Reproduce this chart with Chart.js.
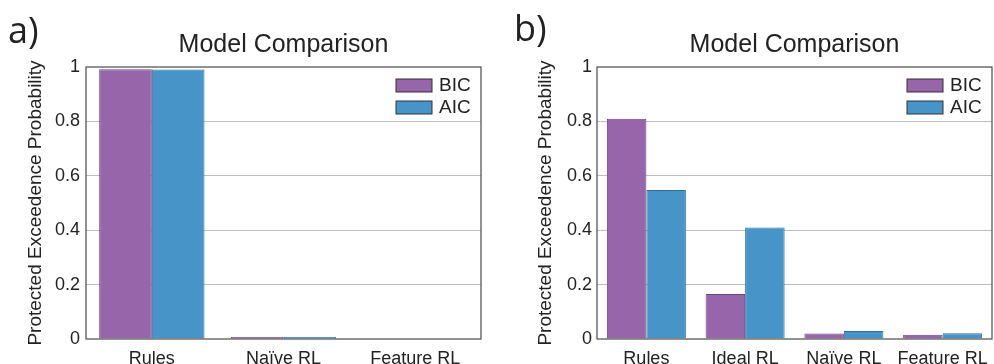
<!DOCTYPE html>
<html>
<head>
<meta charset="utf-8">
<script src="https://cdn.jsdelivr.net/npm/chart.js@4"></script>
<style>
  body { margin: 0; background: #fff; width: 994px; height: 364px; position: relative; overflow: hidden; }
  .panel { position: absolute; top: 0; width: 497px; height: 364px; }
  .tag { position: absolute; font-family: "Open Sans", sans-serif; font-size: 36px; color: #222; line-height: 1; }
</style>
</head>
<body>
<div class="panel" style="left:0"><canvas id="chart-a" width="497" height="364"></canvas></div>
<div class="panel" style="left:497px"><canvas id="chart-b" width="497" height="364"></canvas></div>
<div class="tag" style="left:8px; top:12px">a)</div>
<div class="tag" style="left:514px; top:10px">b)</div>
<script>
// panel a
const catsA = ['Rules', 'Naïve RL', 'Feature RL'];
const bicA = [0.992, 0.007, 0.002];
const aicA = [0.991, 0.007, 0.002];

// panel b
const catsB = ['Rules', 'Ideal RL', 'Naïve RL', 'Feature RL'];
const bicB = [0.81, 0.165, 0.02, 0.016];
const aicB = [0.548, 0.41, 0.029, 0.021];

const yTicks = [0, 0.2, 0.4, 0.6, 0.8, 1];

const FONT = '"Liberation Sans", Arial, sans-serif';
const PURPLE = '#9665aa';
const BLUE = '#4794c9';

// kader rond het plotgebied + legenda binnen de grafiek
const framePlugin = {
    id: 'frame',
    afterDatasetsDraw(chart) {
        const { ctx, chartArea: a } = chart;
        ctx.save();
        ctx.strokeStyle = '#4a4a4a';
        ctx.lineWidth = 1.2;
        ctx.strokeRect(a.left, a.top, a.right - a.left, a.bottom - a.top);

        // legenda
        ctx.font = '19px ' + FONT;
        ctx.textBaseline = 'middle';
        chart.data.datasets.forEach((ds, i) => {
            const y = a.top + 12 + i * 22;
            ctx.fillStyle = ds.backgroundColor;
            ctx.fillRect(a.right - 85, y, 36, 13);
            ctx.strokeStyle = '#333';
            ctx.lineWidth = 1;
            ctx.strokeRect(a.right - 85, y, 36, 13);
            ctx.fillStyle = '#222';
            ctx.fillText(ds.label, a.right - 42, y + 7);
        });
        ctx.restore();
    }
};

function makeChart(id, cats, bic, aic, yWidth, titlePad, tickPad, padRight) {
    return new Chart(document.getElementById(id), {
        type: 'bar',
        data: {
            labels: cats,
            datasets: [
                { label: 'BIC', data: bic, backgroundColor: PURPLE, borderColor: '#6a4680', borderWidth: 1 },
                { label: 'AIC', data: aic, backgroundColor: BLUE, borderColor: '#2f6e9c', borderWidth: 1 }
            ]
        },
        options: {
            responsive: false,
            animation: false,
            layout: { padding: { left: 0, right: padRight, top: 0, bottom: 0 } },
            datasets: { bar: { categoryPercentage: 0.8, barPercentage: 1 } },
            plugins: {
                legend: { display: false },
                tooltip: { enabled: false },
                title: {
                    display: true,
                    text: 'Model Comparison',
                    fullSize: false,
                    color: '#222',
                    font: { family: FONT, size: 25, weight: 'normal', lineHeight: 1.2 },
                    padding: { top: 30, bottom: 7 }
                }
            },
            scales: {
                x: {
                    grid: { display: false },
                    border: { display: false },
                    ticks: { color: '#222', font: { family: FONT, size: 18 }, padding: 1, maxRotation: 0, autoSkip: false },
                    afterFit: (s) => { s.height = 25; }
                },
                y: {
                    min: 0,
                    max: 1,
                    afterBuildTicks: (s) => { s.ticks = yTicks.map(v => ({ value: v })); },
                    grid: {
                        drawTicks: false,
                        color: (c) => (c.tick.value === 0 || c.tick.value === 1) ? 'rgba(0,0,0,0)' : '#bdbdbd'
                    },
                    border: { display: false },
                    ticks: {
                        color: '#222',
                        font: { family: FONT, size: 18 },
                        padding: tickPad,
                        callback: (v) => String(Math.round(v * 10) / 10)
                    },
                    title: {
                        display: true,
                        text: 'Protected Exceedence Probability',
                        color: '#222',
                        font: { family: FONT, size: 19 },
                        padding: { top: titlePad, bottom: 0 }
                    },
                    afterFit: (s) => { s.width = yWidth; }
                }
            }
        },
        plugins: [framePlugin]
    });
}

makeChart('chart-a', catsA, bicA, aicA, 86, 24, 6, 16);
makeChart('chart-b', catsB, bicB, aicB, 100, 37, 5, 2);
</script>
</body>
</html>
